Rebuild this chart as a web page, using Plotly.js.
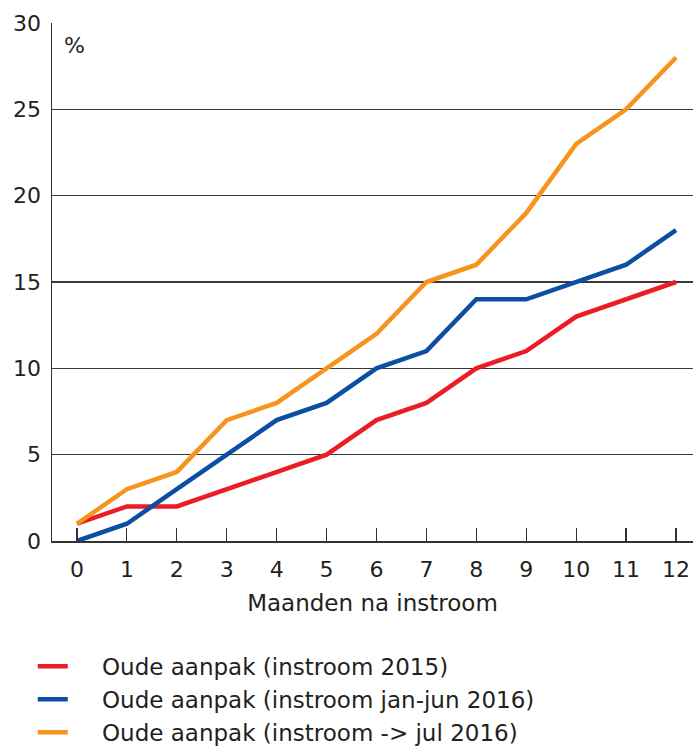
<!DOCTYPE html>
<html>
<head>
<meta charset="utf-8">
<script src="https://cdn.plot.ly/plotly-3.0.1.min.js"></script>
<style>html,body{margin:0;padding:0;background:#fff;}#chart{width:693px;height:755px;}</style>
</head>
<body>
<div id="chart"></div>
<script>
const months = [0,1,2,3,4,5,6,7,8,9,10,11,12];
const tickLabels = ["0","1","2","3","4","5","6","7","8","9","10","11","12"];
const seriesNames = ["Oude aanpak (instroom 2015)","Oude aanpak (instroom jan-jun 2016)","Oude aanpak (instroom -> jul 2016)"];
const red2015 = [1,2,2,3,4,5,7,8,10,11,13,14,15];
const blueJanJun2016 = [0,1,3,5,7,8,10,11,14,14,15,16,18];
const orangeJul2016 = [1,3,4,7,8,10,12,15,16,19,23,25,28];
const colors = ["#ec1c24","#0b4ea2","#f7941d"];
const FONT = "DejaVu Sans, sans-serif";
const PAD = "\u00a0\u00a0\u00a0\u00a0";

const traces = [red2015, blueJanJun2016, orangeJul2016].map((ys,i)=>({
  x: months, y: ys, type:"scatter", mode:"lines", name: PAD + seriesNames[i],
  line:{color:colors[i], width:4.5}, cliponaxis:false
}));

const layout = {
  width:693, height:755,
  margin:{l:52, r:0, t:23, b:214},
  paper_bgcolor:"#fff", plot_bgcolor:"#fff",
  font:{family:FONT, size:22, color:"#231f20"},
  showlegend:true,
  legend:{x:-0.03, y:-0.411, xanchor:"left", yanchor:"bottom", orientation:"v",
    font:{family:FONT, size:23, color:"#231f20"}, itemwidth:30, tracegroupgap:0},
  xaxis:{range:[-0.5,12.34], tickvals:months, ticktext:tickLabels,
    showgrid:false, zeroline:false, showline:true, linecolor:"#333", linewidth:1.5,
    ticks:"inside", ticklen:13, tickcolor:"#333", tickwidth:1.2,
    tickfont:{size:22}, ticklabelstandoff:8, fixedrange:true, automargin:false,
    title:{text:"Maanden na instroom", font:{size:23}, standoff:14}},
  yaxis:{range:[0,30], tickvals:[0,5,10,15,20,25,30],
    showgrid:true, gridcolor:"#3a3a3a", gridwidth:1.5, zeroline:false,
    showline:true, linecolor:"#333", linewidth:1.5, ticks:"", tickfont:{size:22},
    ticklabelstandoff:5, fixedrange:true, automargin:false},
  annotations:[{text:"%", xref:"paper", yref:"paper", x:0.015, y:0.985,
    xanchor:"left", yanchor:"top", showarrow:false, font:{size:22}}]
};
Plotly.newPlot("chart", traces, layout, {displayModeBar:false, staticPlot:true});
</script>
</body>
</html>
